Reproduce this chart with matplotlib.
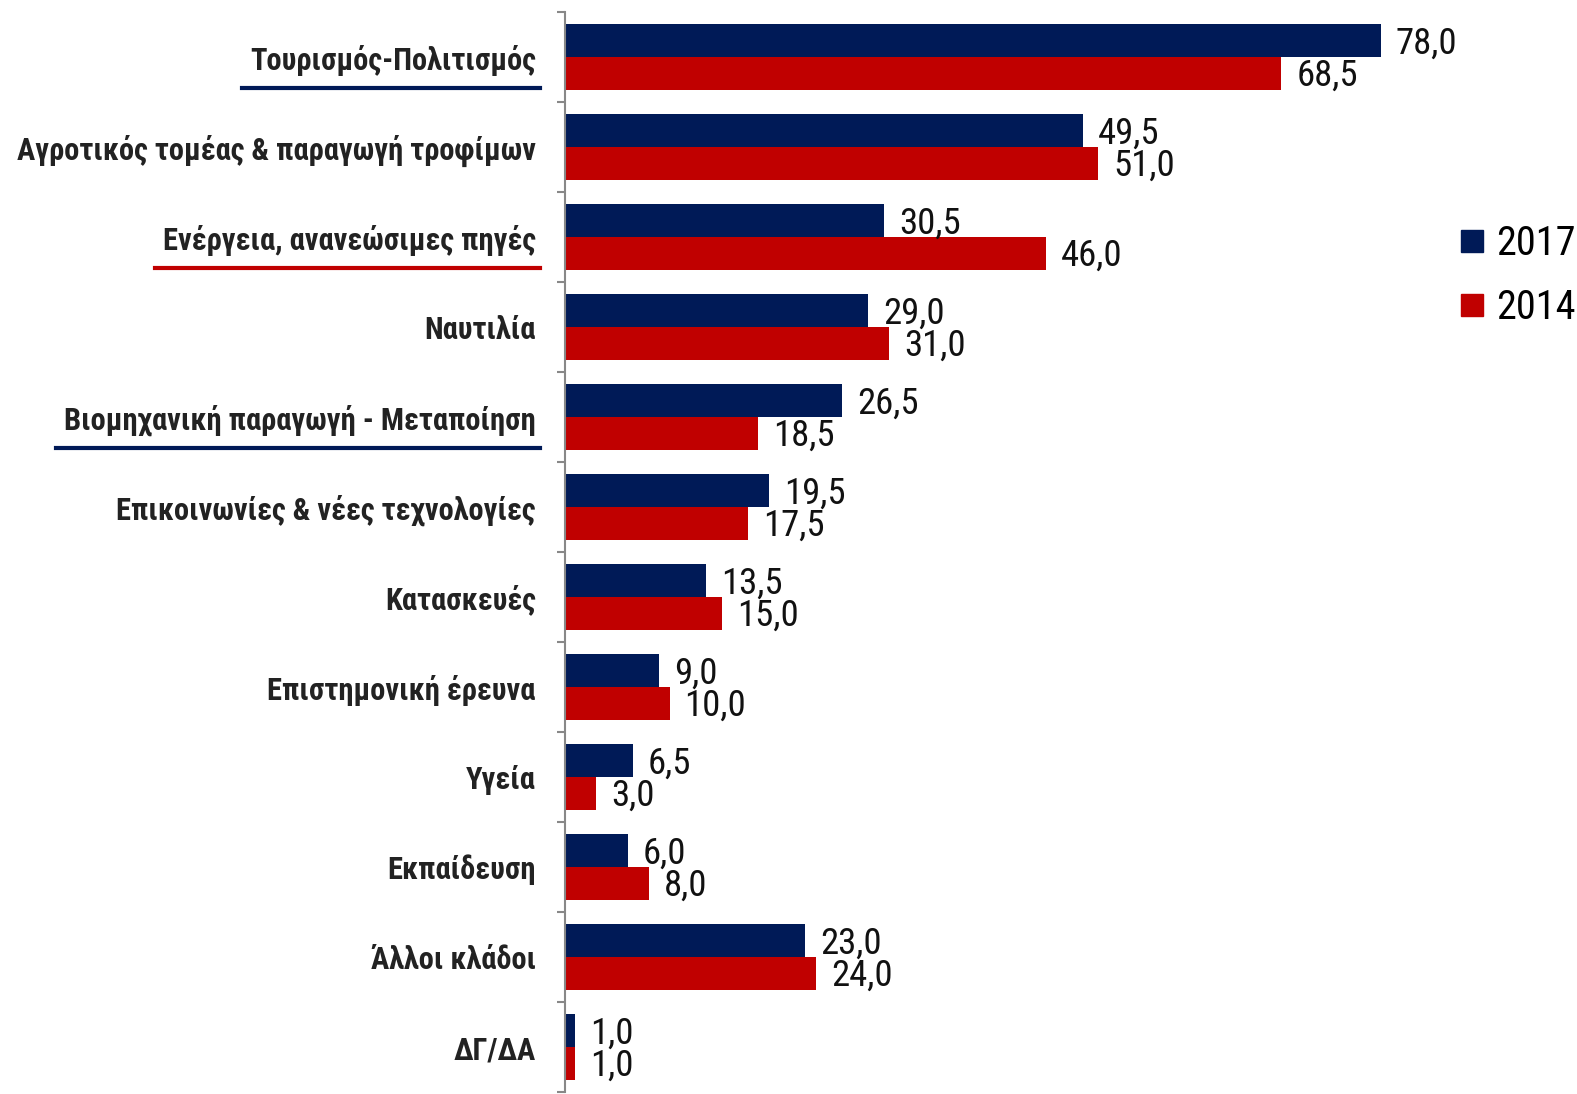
import numpy as np
import matplotlib.pyplot as plt
from matplotlib.lines import Line2D

categories = ['Τουρισμός-Πολιτισμός', 'Αγροτικός τομέας & παραγωγή τροφίμων',
              'Ενέργεια, ανανεώσιμες πηγές', 'Ναυτιλία',
              'Βιομηχανική παραγωγή - Μεταποίηση', 'Επικοινωνίες & νέες τεχνολογίες',
              'Κατασκευές', 'Επιστημονική έρευνα', 'Υγεία', 'Εκπαίδευση',
              'Άλλοι κλάδοι', 'ΔΓ/ΔΑ']
vals_2017 = [78.0, 49.5, 30.5, 29.0, 26.5, 19.5, 13.5, 9.0, 6.5, 6.0, 23.0, 1.0]
vals_2014 = [68.5, 51.0, 46.0, 31.0, 18.5, 17.5, 15.0, 10.0, 3.0, 8.0, 24.0, 1.0]
series_labels = ['2017', '2014']
# underlined labels: index -> colour
underlined = {0: '#001A57', 2: '#C00000', 4: '#001A57'}

NAVY = '#001A57'
RED = '#C00000'
plt.rcParams['font.family'] = ['Roboto Condensed', 'Archivo Narrow', 'DejaVu Sans']

W, H = 1577, 1094
fig = plt.figure(figsize=(W / 100, H / 100), dpi=100)
ax = fig.add_axes([565 / W, 2 / H, 941 / W, 1080 / H])

n = len(categories)
y = np.arange(n)
bh = 0.366
ax.barh(y - bh / 2, vals_2017, height=bh, color=NAVY)
ax.barh(y + bh / 2, vals_2014, height=bh, color=RED)

for i in range(n):
    ax.annotate(f'{vals_2017[i]:.1f}'.replace('.', ','), (vals_2017[i], y[i] - bh / 2),
                xytext=(15, -3), textcoords='offset pixels', va='center', ha='left',
                fontsize=26.5, color='#111111')
    ax.annotate(f'{vals_2014[i]:.1f}'.replace('.', ','), (vals_2014[i], y[i] + bh / 2),
                xytext=(15, -2), textcoords='offset pixels', va='center', ha='left',
                fontsize=26.5, color='#111111')

ax.set_ylim(n - 0.5, -0.5)
ax.set_xlim(0, 90)
ax.set_yticks(y)
ax.set_yticklabels(categories, fontsize=22, fontweight='bold', color='#222222')
ax.set_yticks(np.arange(n + 1) - 0.5, minor=True)
ax.tick_params(axis='y', which='major', length=0, pad=21)
ax.tick_params(axis='y', which='minor', length=6, width=1.5, color='#888888', direction='out')
ax.set_xticks([])
for s in ['top', 'right', 'bottom']:
    ax.spines[s].set_visible(False)
ax.spines['left'].set_color('#888888')
ax.spines['left'].set_linewidth(1.5)

# underline a few category labels
fig.canvas.draw()
renderer = fig.canvas.get_renderer()
labels = ax.get_yticklabels()
for i, col in underlined.items():
    bb = labels[i].get_window_extent(renderer)
    x0 = (bb.x0 - 8) / W
    x1 = (bb.x1 + 4) / W
    yy = (bb.y0 - 12) / H
    fig.add_artist(Line2D([x0, x1], [yy, yy], transform=fig.transFigure,
                          color=col, lw=3))

handles = [Line2D([], [], marker='s', ls='none', markersize=16, color=c) for c in (NAVY, RED)]
fig.legend(handles, series_labels, loc='upper left', bbox_to_anchor=(1440 / W, 1 - 208 / H),
           frameon=False, fontsize=29, handletextpad=0.2, labelspacing=0.62,
           borderaxespad=0, handlelength=0.8)

fig.savefig('out.png', dpi=100)
